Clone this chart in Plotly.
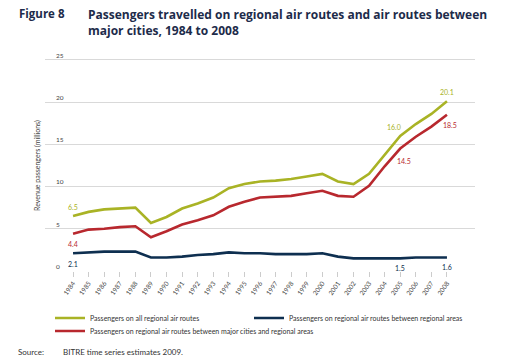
import plotly.graph_objects as go

years = list(range(1984, 2009))
all_regional = [6.5, 7.0, 7.3, 7.4, 7.5, 5.7, 6.4, 7.4, 8.0, 8.7, 9.8, 10.3, 10.6, 10.7, 10.9, 11.2, 11.5, 10.6, 10.3, 11.5, 13.8, 16.0, 17.4, 18.6, 20.1]
major_regional = [4.4, 4.9, 5.0, 5.2, 5.3, 4.0, 4.7, 5.5, 6.0, 6.6, 7.6, 8.2, 8.7, 8.8, 8.9, 9.2, 9.5, 8.9, 8.8, 10.1, 12.4, 14.5, 15.9, 17.1, 18.5]
regional_regional = [2.1, 2.2, 2.3, 2.3, 2.3, 1.6, 1.6, 1.7, 1.9, 2.0, 2.2, 2.1, 2.1, 2.0, 2.0, 2.0, 2.1, 1.7, 1.5, 1.5, 1.5, 1.5, 1.6, 1.6, 1.6]

names = ["Passengers on all regional air routes",
         "Passengers on regional air routes between regional areas",
         "Passengers on regional air routes between major cities and regional areas"]
GREEN = "#a9b325"
NAVY = "#0e2f50"
RED = "#b8282e"

W, H = 512, 363
L, R, T, B = 45, 37, 43, 92
PW, PH = W - L - R, H - T - B

fig = go.Figure()
fig.add_trace(go.Scatter(x=years, y=all_regional, mode="lines", name=names[0],
                         line=dict(color=GREEN, width=2.6), legend="legend"))
fig.add_trace(go.Scatter(x=years, y=regional_regional, mode="lines", name=names[1],
                         line=dict(color=NAVY, width=2.6), legend="legend2"))
fig.add_trace(go.Scatter(x=years, y=major_regional, mode="lines", name=names[2],
                         line=dict(color=RED, width=2.6), legend="legend3"))

def idx(y):
    return years.index(y)

labels = [
    (1984, all_regional, GREEN, 0, 9),
    (1984, major_regional, RED, 0, -10),
    (1984, regional_regional, NAVY, 0, -11),
    (2005, all_regional, GREEN, -6, 9),
    (2005, major_regional, RED, 4, -12),
    (2008, all_regional, GREEN, 0, 9),
    (2008, major_regional, RED, 3, -10),
    (2005, regional_regional, NAVY, 0, -10),
    (2008, regional_regional, NAVY, 0, -10),
]
for yr, series, col, xs, ys in labels:
    v = series[idx(yr)]
    fig.add_annotation(x=yr, y=v, text=f"{v:.1f}", showarrow=False,
                       xshift=xs, yshift=ys, font=dict(family="Lato", size=7, color=col))

def px(x):
    return (x - L) / PW

def py(y):
    return (H - B - y) / PH

title_font = dict(family="Open Sans", size=12.0, color="#1d2b4a")
fig.add_annotation(x=px(17), y=py(13), xref="paper", yref="paper", xanchor="left", yanchor="middle",
                   text="<b>Figure 8</b>", showarrow=False,
                   font=dict(family="Open Sans", size=11.5, color="#1d2b4a"))
fig.add_annotation(x=px(86), y=py(22), xref="paper", yref="paper", xanchor="left", yanchor="middle",
                   align="left",
                   text="<b>Passengers travelled on regional air routes and air routes between<br>major cities, 1984 to 2008</b>",
                   showarrow=False, font=title_font)
fig.add_annotation(x=px(16), y=py(352), xref="paper", yref="paper", xanchor="left", yanchor="middle",
                   text="Source:", showarrow=False, font=dict(family="Lato", size=8, color="#333"))
fig.add_annotation(x=px(61), y=py(352), xref="paper", yref="paper", xanchor="left", yanchor="middle",
                   text="BITRE time series estimates 2009.", showarrow=False,
                   font=dict(family="Lato", size=8, color="#333"))
fig.add_annotation(x=px(37), y=py(166), xref="paper", yref="paper", xanchor="center", yanchor="middle",
                   text="Revenue passengers (millions)", textangle=-90, showarrow=False,
                   font=dict(family="Lato", size=7, color="#444"))

leg_common = dict(orientation="v", xref="container", yref="container", xanchor="left",
                  yanchor="middle", font=dict(family="Lato", size=7, color="#333"),
                  itemwidth=30, bgcolor="rgba(0,0,0,0)")
fig.update_layout(
    width=W, height=H,
    margin=dict(l=L, r=R, t=T, b=B, autoexpand=False),
    paper_bgcolor="white", plot_bgcolor="white",
    font=dict(family="Lato", color="#444"),
    showlegend=True,
    legend=dict(x=50 / W, y=1 - 318 / H, **leg_common),
    legend2=dict(x=249 / W, y=1 - 318 / H, **leg_common),
    legend3=dict(x=50 / W, y=1 - 331 / H, **leg_common),
    xaxis=dict(range=[1982.2, 2009.8], tickmode="array", tickvals=years,
               ticktext=[str(y) for y in years], tickangle=-55,
               tickfont=dict(size=6.5, color="#444"), ticks="outside", ticklen=5,
               tickcolor="#cccccc", showgrid=False, zeroline=False, showline=False,
               automargin=False),
    yaxis=dict(range=[0, 27], tickvals=[0, 5, 10, 15, 20, 25],
               ticklabelposition="inside top", ticklabelstandoff=8,
               tickfont=dict(size=6.5, color="#444"), gridcolor="#d9d9d9",
               zeroline=False, showline=False, automargin=False),
)

fig.write_html("out.html", config={"displayModeBar": False},
               post_script="document.body.style.margin='0';")
